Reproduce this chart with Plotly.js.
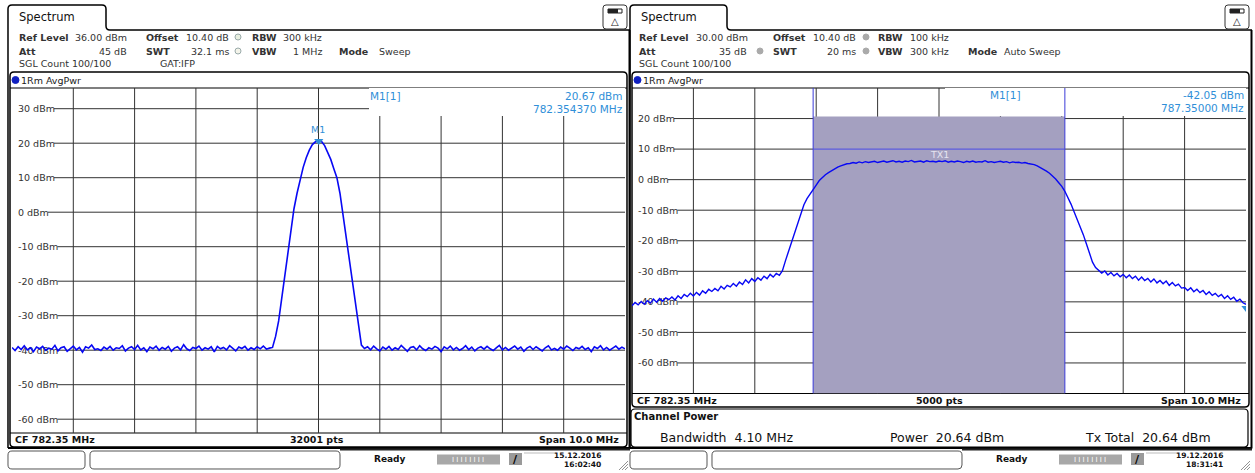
<!DOCTYPE html>
<html><head><meta charset="utf-8">
<script src="https://cdn.plot.ly/plotly-3.0.1.min.js"></script>
<style>html,body{margin:0;padding:0;background:#fff;overflow:hidden}#chart{width:1255px;height:473px}</style>
</head><body><div id="chart"></div>
<script>
// ---------------- data ----------------
const centerFreqMHz = 782.35;
const spanMHz = 10.0;
const refLevel1 = 36, bottomLevel1 = -64;
const refLevel2 = 30, bottomLevel2 = -70;
const yTickValues1 = [30, 20, 10, 0, -10, -20, -30, -40, -50, -60];
const yTickValues2 = [20, 10, 0, -10, -20, -30, -40, -50, -60];
const yTickLabels1 = ['30 dBm','20 dBm','10 dBm','0 dBm','-10 dBm','-20 dBm','-30 dBm','-40 dBm','-50 dBm','-60 dBm'];
const yTickLabels2 = ['20 dBm','10 dBm','0 dBm','-10 dBm','-20 dBm','-30 dBm','-40 dBm','-50 dBm','-60 dBm'];

// left analyser trace (dBm), sampled evenly across the span
const trace1Level = [
-39.2,-40.1,-39.0,-39.8,-38.7,-39.9,-39.3,-40.4,-39.1,-39.6,
-38.9,-40.0,-39.4,-39.7,-38.6,-40.2,-39.3,-39.0,-40.3,-39.5,
-38.8,-39.9,-39.2,-40.6,-39.0,-39.4,-38.5,-39.8,-39.6,-40.1,
-39.1,-39.7,-38.9,-40.0,-39.3,-39.5,-38.7,-40.2,-39.4,-39.0,
-39.8,-38.6,-39.9,-39.3,-40.4,-39.1,-39.6,-38.8,-40.0,-39.2,
-39.7,-38.9,-40.3,-39.4,-39.0,-39.9,-38.4,-39.6,-40.1,-39.2,
-39.5,-38.8,-40.0,-39.3,-39.7,-39.0,-40.5,-38.9,-39.6,-39.2,
-39.9,-38.7,-39.4,-40.2,-39.1,-39.5,-38.9,-40.0,-39.3,-39.8,
-39.0,-39.6,-38.8,-39.7,-39.4,-39.2,
-36.0,-31.5,-25.0,-18.5,-12.5,-5.0,1.0,5.5,9.5,13.0,15.8,18.0,19.6,20.4,20.67,
20.5,19.3,17.5,15.3,12.6,10.0,5.5,-1.0,-7.5,-13.5,-20.0,-27.0,-33.5,-38.5,
-39.5,-39.0,-39.9,-38.8,-39.6,-40.2,-39.1,-39.7,-38.9,-40.0,
-39.3,-39.8,-38.6,-39.5,-40.3,-39.2,-39.0,-39.9,-38.7,-39.6,
-40.1,-39.3,-39.7,-38.9,-39.4,-40.4,-39.0,-39.6,-38.8,-39.9,
-39.2,-40.0,-39.5,-38.7,-39.8,-39.1,-40.2,-39.4,-39.0,-39.7,
-38.9,-39.6,-40.1,-39.3,-38.6,-39.9,-39.2,-40.0,-39.5,-38.8,
-39.7,-39.1,-40.3,-39.4,-38.9,-39.8,-39.0,-39.6,-40.2,-39.3,
-38.7,-39.9,-39.5,-40.0,-39.1,-39.7,-38.8,-39.4,-40.1,-39.2,
-39.6,-38.9,-39.8,-39.3,-40.4,-39.0,-39.5,-38.7,-39.9,-39.2,
-40.0,-39.4,-38.8,-39.7,-39.1,-39.6
];

// right analyser trace (dBm), sampled evenly across the span
const trace2Level = [
-41.3,-40.2,-41.0,-39.9,-40.8,-39.6,-40.4,-39.1,-40.1,-38.9,
-39.8,-38.7,-39.3,-38.4,-39.4,-38.0,-38.9,-37.6,-38.3,-37.2,
-38.1,-36.9,-37.8,-36.4,-37.2,-35.9,-36.6,-35.6,-36.4,-34.9,
-35.8,-34.6,-35.1,-34.0,-34.9,-33.5,-34.3,-32.8,-33.8,-32.4,
-33.3,-32.1,-32.9,-31.6,-32.4,-31.0,-31.9,-30.7,-31.3,
-29.8,-26.5,-23.5,-20.5,-17.0,-13.8,-10.8,-8.2,-6.2,-4.6,-3.3,-1.8,-0.3,0.7,1.6,2.3,3.0,3.6,4.1,4.5,4.9,5.2,
5.3,5.6,5.4,5.8,5.5,5.9,5.6,5.7,6.0,5.6,
5.8,6.1,5.7,5.9,6.2,5.8,6.0,5.7,6.1,5.9,
6.3,5.8,6.0,6.1,5.7,6.2,5.9,6.0,5.8,6.1,
5.9,6.2,5.7,6.0,5.8,6.1,5.9,5.6,6.0,5.8,
6.1,5.7,5.9,5.8,6.2,5.7,5.9,5.6,5.8,6.0,
5.7,5.9,5.5,5.8,5.6,5.7,5.4,5.6,5.3,
5.2,4.9,4.5,4.0,3.4,2.8,2.1,1.2,0.2,-1.0,-2.2,-3.8,-5.8,-8.0,-10.5,-12.8,-15.2,-18.0,-21.0,-24.2,-27.0,-28.8,-29.8,-30.6,
-29.9,-31.2,-30.4,-31.5,-30.7,-31.8,-31.0,
-32.1,-31.2,-32.4,-31.6,-32.9,-31.9,-33.0,-32.3,-33.5,-32.5,
-33.8,-33.0,-34.1,-33.2,-34.6,-33.7,-34.8,-34.2,-35.5,-35.3,
-36.3,-35.4,-36.7,-35.9,-37.0,-36.3,-37.6,-36.7,-37.9,-37.2,
-38.3,-37.6,-38.9,-38.0,-39.2,-38.5,-39.8,-39.1,-40.3,-40.8
];

const marker1 = {freq: 782.354370, level: 20.67};
const marker2 = {freq: 787.35, level: -42.05};
const channelBwMHz = 4.10;
const txLineLevel = 10;

// ---------------- layout helpers ----------------
const W = 1255, H = 473;
const FONT = "'DejaVu Sans', Verdana, sans-serif";
const X = x => x / W, Y = y => 1 - y / H;
const shapes = [], ann = [];
const startF = centerFreqMHz - spanMHz / 2, stopF = centerFreqMHz + spanMHz / 2;
const freqs = arr => arr.map((_, i) => startF + i * spanMHz / (arr.length - 1));

function line(x0, y0, x1, y1, color = '#000', w = 1, layer = 'below') {
  shapes.push({type: 'line', xref: 'paper', yref: 'paper', x0: X(x0), y0: Y(y0), x1: X(x1), y1: Y(y1), line: {color, width: w}, layer});
}
function rect(x0, y0, x1, y1, o = {}) {
  shapes.push({type: 'rect', xref: 'paper', yref: 'paper', x0: X(x0), y0: Y(y0), x1: X(x1), y1: Y(y1),
    line: {color: o.lc || '#000', width: o.lw == null ? 1 : o.lw}, fillcolor: o.fill || 'rgba(0,0,0,0)', layer: o.layer || 'below'});
}
function P(x, y) { return X(x).toFixed(5) + ',' + Y(y).toFixed(5); }
function path(d, o = {}) {
  shapes.push({type: 'path', xref: 'paper', yref: 'paper', path: d, line: {color: o.lc || '#000', width: o.lw == null ? 1 : o.lw},
    fillcolor: o.fill || 'rgba(0,0,0,0)', layer: o.layer || 'below'});
}
function rrect(x0, y0, x1, y1, r, o = {}) {
  const d = 'M' + P(x0 + r, y0) + ' L' + P(x1 - r, y0) + ' Q' + P(x1, y0) + ' ' + P(x1, y0 + r) +
    ' L' + P(x1, y1 - r) + ' Q' + P(x1, y1) + ' ' + P(x1 - r, y1) + ' L' + P(x0 + r, y1) + ' Q' + P(x0, y1) + ' ' + P(x0, y1 - r) +
    ' L' + P(x0, y0 + r) + ' Q' + P(x0, y0) + ' ' + P(x0 + r, y0) + ' Z';
  path(d, o);
}
function circ(cx, cy, r, o = {}) {
  shapes.push({type: 'circle', xref: 'paper', yref: 'paper', x0: X(cx - r), y0: Y(cy + r), x1: X(cx + r), y1: Y(cy - r),
    line: {color: o.lc || '#999', width: o.lw == null ? 1 : o.lw}, fillcolor: o.fill || 'rgba(0,0,0,0)', layer: 'below'});
}
function txt(t, x, y, o = {}) {
  ann.push({text: t, x: X(x), y: Y(y), xref: 'paper', yref: 'paper', xanchor: o.a || 'left', yanchor: 'middle',
    showarrow: false, borderpad: 0, font: {family: o.f || FONT, size: o.s || 9.5, color: o.c || '#222'}});
}
const ctx = document.createElement('canvas').getContext('2d');
function textW(t, size) { ctx.font = size + "px 'DejaVu Sans'"; return ctx.measureText(t).width; }

// plot rectangles (pixels)
const L1 = {x0: 12, x1: 625, y0: 88, y1: 433};
const L2 = {x0: 632, x1: 1246, y0: 88, y1: 393.5};
const TICK_SIZE = 9.5, STANDOFF = 3;

function hGrid(plot, vals, labels, yref) {
  vals.forEach((v, i) => {
    const xs = plot.x0 + STANDOFF + textW(labels[i], TICK_SIZE) + 2;
    shapes.push({type: 'line', xref: 'paper', yref, x0: X(xs), x1: X(plot.x1), y0: v, y1: v, line: {color: '#333', width: 1}, layer: 'below'});
  });
}
function vGrid(xref, yref, yb, yt) {
  for (let k = 1; k < 10; k++) {
    const f = startF + k * spanMHz / 10;
    shapes.push({type: 'line', xref, yref, x0: f, x1: f, y0: yb, y1: yt, line: {color: '#333', width: 1}, layer: 'below'});
  }
}

// ---- grids ----
hGrid(L1, yTickValues1, yTickLabels1, 'y');
hGrid(L2, yTickValues2, yTickLabels2, 'y2');
vGrid('x', 'y', bottomLevel1, refLevel1);
vGrid('x2', 'y2', bottomLevel2, refLevel2);

// marker-info masks (white), in subplot coordinates
function pxToF(plot, px) { return startF + (px - plot.x0) / (plot.x1 - plot.x0) * spanMHz; }
function pxToL(plot, py, top, bot) { return top - (py - plot.y0) / (plot.y1 - plot.y0) * (top - bot); }
shapes.push({type: 'rect', xref: 'x', yref: 'y', x0: pxToF(L1, 369), x1: stopF, y0: pxToL(L1, 116, refLevel1, bottomLevel1), y1: refLevel1,
  line: {width: 0}, fillcolor: '#fff', layer: 'below'});
shapes.push({type: 'rect', xref: 'x2', yref: 'y2', x0: pxToF(L2, 945), x1: stopF, y0: pxToL(L2, 116, refLevel2, bottomLevel2), y1: refLevel2,
  line: {width: 0}, fillcolor: '#fff', layer: 'below'});

// channel shading in right plot
const chLo = centerFreqMHz - channelBwMHz / 2, chHi = centerFreqMHz + channelBwMHz / 2;
shapes.push({type: 'rect', xref: 'x2', yref: 'y2', x0: chLo, x1: chHi, y0: bottomLevel2, y1: pxToL(L2, 116.5, refLevel2, bottomLevel2),
  line: {width: 0}, fillcolor: 'rgb(164,160,192)', layer: 'below'});
[chLo, chHi].forEach(f => shapes.push({type: 'line', xref: 'x2', yref: 'y2', x0: f, x1: f, y0: bottomLevel2, y1: refLevel2,
  line: {color: '#3a3ad8', width: 1}, layer: 'below'}));
shapes.push({type: 'line', xref: 'x2', yref: 'y2', x0: chLo, x1: chHi, y0: txLineLevel, y1: txLineLevel, line: {color: '#4a4ae6', width: 1}, layer: 'below'});

// ---------------- panel frames & texts ----------------
function panel(ox, tabW, cfg) {
  path('M' + P(ox + 8, 448) + ' L' + P(ox + 8, 9) + ' Q' + P(ox + 8, 5) + ' ' + P(ox + 12, 5) + ' L' + P(ox + tabW - 4, 5) +
    ' Q' + P(ox + tabW, 5) + ' ' + P(ox + tabW, 9) + ' L' + P(ox + tabW, 26) + ' Q' + P(ox + tabW, 30) + ' ' + P(ox + tabW + 4, 30) +
    ' L' + P(ox + 630, 30), {lw: 1.5});
  txt('Spectrum', ox + 18, 17, {s: 11.5, c: '#111'});
  rrect(ox + 603, 5, ox + 627, 29, 3, {lw: 1, lc: '#333', fill: '#fff'});
  rect(ox + 608, 9, ox + 622, 13, {lw: 1, lc: '#222', fill: '#fff'});
  rect(ox + 608, 9, ox + 618, 13, {lw: 0, fill: '#222'});
  txt('△', ox + 615, 21, {a: 'center', s: 10, c: '#222'});
  line(ox + 629.5, 30, ox + 629.5, 448.5, '#000', 2);
  line(ox + 8, 448, ox + 630, 448, '#000', 2);
  const c = '#333';
  cfg.info.forEach(it => txt(it[0], ox + it[1], it[2], {a: it[3] || 'left', c: it[4] || c}));
  cfg.dots.forEach(d => circ(ox + d[0], d[1], 3, d[2]));
  rrect(ox + 10, 72, ox + 627, cfg.winBottom, 4, {lw: 1.5});
  line(ox + 10, 88, ox + 627, 88, '#000', 1.2);
  circ(ox + 15.5, 80, 3.5, {lc: '#1020c0', fill: '#1020c0'});
  txt('1Rm AvgPwr', ox + 20, 80, {c: '#222'});
  line(ox + 10, cfg.plotBottom, ox + 627, cfg.plotBottom, '#000', 1.2);
  const by = cfg.plotBottom + 6.5;
  txt('<b>CF 782.35 MHz</b>', ox + 14, by, {c: '#111'});
  txt('<b>' + cfg.pts + '</b>', ox + 317, by, {a: 'center', c: '#111'});
  txt('<b>Span 10.0 MHz</b>', ox + 620, by, {a: 'right', c: '#111'});
  rrect(ox + 8, 451, ox + 85, 469, 4, {lw: 1, lc: '#555'});
  rrect(ox + 90, 451, ox + 340, 469, 4, {lw: 1, lc: '#555'});
  line(ox + 340, 449.5, ox + 630, 449.5, '#222', 2);
  txt('<b>Ready</b>', ox + 373, 459, {s: 9, c: '#111'});
  rect(ox + 437, 454.5, ox + 500, 464.5, {lw: 0, fill: '#a8a8a8'});
  txt('I I I I I I I I', ox + 468, 459.5, {a: 'center', s: 7, c: '#fff'});
  rect(ox + 509, 453, ox + 522, 465, {lw: 0, fill: '#9a9a9a'});
  txt('<b>/</b>', ox + 515.5, 459, {a: 'center', s: 11, c: '#000'});
  line(ox + 524, 453, ox + 556, 453, '#bbb', 1);
  txt('<b>' + cfg.date + '</b>', ox + 602, 455, {a: 'right', s: 7.5, c: '#111'});
  txt('<b>' + cfg.time + '</b>', ox + 602, 464.5, {a: 'right', s: 7.5, c: '#111'});
  for (let k = 0; k < 4; k++) line(ox + 619 + k * 3, 470, ox + 628, 461 + k * 3, '#777', 0.8);
}

panel(0, 106, {
  info: [
    ['<b>Ref Level</b>', 18, 37], ['36.00 dBm', 128, 37, 'right'], ['<b>Offset</b>', 145, 37], ['10.40 dB', 230, 37, 'right'],
    ['<b>RBW</b>', 251, 37], ['300 kHz', 323, 37, 'right'],
    ['<b>Att</b>', 18, 51], ['45 dB', 128, 51, 'right'], ['<b>SWT</b>', 145, 51], ['32.1 ms', 230, 51, 'right'],
    ['<b>VBW</b>', 251, 51], ['1 MHz', 323, 51, 'right'], ['<b>Mode</b>', 338, 51], ['Sweep', 378, 51],
    ['SGL Count 100/100', 18, 64], ['GAT:IFP', 159, 64]
  ],
  dots: [[238, 37, {lc: '#9aa', fill: '#e8efe0'}], [238, 51, {lc: '#9aa', fill: '#f4f4ea'}]],
  winBottom: 447, plotBottom: 433, pts: '32001 pts', date: '15.12.2016', time: '16:02:40'
});
panel(622, 727 - 622, {
  info: [
    ['<b>Ref Level</b>', 16, 37], ['30.00 dBm', 127, 37, 'right'], ['<b>Offset</b>', 150, 37], ['10.40 dB', 235, 37, 'right'],
    ['<b>RBW</b>', 255, 37], ['100 kHz', 328, 37, 'right'],
    ['<b>Att</b>', 16, 51], ['35 dB', 126, 51, 'right'], ['<b>SWT</b>', 150, 51], ['20 ms', 235, 51, 'right'],
    ['<b>VBW</b>', 255, 51], ['300 kHz', 328, 51, 'right'], ['<b>Mode</b>', 345, 51], ['Auto Sweep', 381, 51],
    ['SGL Count 100/100', 16, 64]
  ],
  dots: [[244, 37, {lc: '#aaa', fill: '#aaa'}], [138, 51, {lc: '#aaa', fill: '#aaa'}], [244, 51, {lc: '#aaa', fill: '#aaa'}]],
  winBottom: 407, plotBottom: 393.5, pts: '5000 pts', date: '19.12.2016', time: '18:31:41'
});
rrect(631, 409, 1248, 447, 4, {lw: 1.2});
txt('<b>Channel Power</b>', 633, 416.5, {s: 10, c: '#111'});
txt('Bandwidth\u00A0\u00A04.10 MHz', 659, 437, {s: 12.5, c: '#111'});
txt('Power\u00A0\u00A020.64 dBm', 889, 437, {s: 12.5, c: '#111'});
txt('Tx Total\u00A0\u00A020.64 dBm', 1084, 437, {s: 12.5, c: '#111'});

const MC = '#2f8fd8';
txt('M1[1]', 369, 96, {s: 10.5, c: MC});
txt(marker1.level.toFixed(2) + ' dBm', 624, 96, {a: 'right', s: 10.5, c: MC});
txt(marker1.freq.toFixed(6) + ' MHz', 624, 109, {a: 'right', s: 10.5, c: MC});
txt('M1', 318, 129, {a: 'center', s: 9.5, c: MC});
txt('M1[1]', 989, 95, {s: 10.5, c: MC});
txt(marker2.level.toFixed(2) + ' dBm', 1245, 95, {a: 'right', s: 10.5, c: MC});
txt(marker2.freq.toFixed(5) + ' MHz', 1245, 108, {a: 'right', s: 10.5, c: MC});
txt('TX1', 939, 155, {a: 'center', s: 9.5, c: '#e4e4f0'});

// ---------------- traces ----------------
const traces = [
  {x: freqs(trace1Level), y: trace1Level, type: 'scatter', mode: 'lines', xaxis: 'x', yaxis: 'y',
   line: {color: '#0808f4', width: 1.6}, hoverinfo: 'skip'},
  {x: freqs(trace2Level), y: trace2Level, type: 'scatter', mode: 'lines', xaxis: 'x2', yaxis: 'y2',
   line: {color: '#0808f4', width: 1.4}, hoverinfo: 'skip'},
  {x: [marker1.freq], y: [marker1.level], type: 'scatter', mode: 'markers', xaxis: 'x', yaxis: 'y', cliponaxis: false,
   marker: {symbol: 'triangle-down', size: 8, color: MC}, hoverinfo: 'skip'},
  {x: [marker2.freq], y: [marker2.level], type: 'scatter', mode: 'markers', xaxis: 'x2', yaxis: 'y2', cliponaxis: true,
   marker: {symbol: 'triangle-down', size: 8, color: MC}, hoverinfo: 'skip'}
];

const xCommon = {range: [startF, stopF], showgrid: false, zeroline: false, showline: false, showticklabels: false, ticks: '', fixedrange: true};
const yCommon = {showgrid: false, zeroline: false, showline: false, ticks: '', ticklabelposition: 'inside', ticklabelstandoff: STANDOFF,
  tickfont: {family: FONT, size: TICK_SIZE, color: '#333'}, layer: 'below traces', fixedrange: true};

const layout = {
  width: W, height: H, margin: {l: 0, r: 0, t: 0, b: 0}, showlegend: false,
  paper_bgcolor: '#fff', plot_bgcolor: 'rgba(0,0,0,0)',
  xaxis: Object.assign({}, xCommon, {domain: [X(L1.x0), X(L1.x1)], anchor: 'y'}),
  yaxis: Object.assign({}, yCommon, {domain: [Y(L1.y1), Y(L1.y0)], range: [bottomLevel1, refLevel1], tickvals: yTickValues1, ticktext: yTickLabels1, anchor: 'x'}),
  xaxis2: Object.assign({}, xCommon, {domain: [X(L2.x0), X(L2.x1)], anchor: 'y2'}),
  yaxis2: Object.assign({}, yCommon, {domain: [Y(L2.y1), Y(L2.y0)], range: [bottomLevel2, refLevel2], tickvals: yTickValues2, ticktext: yTickLabels2, anchor: 'x2'}),
  shapes, annotations: ann
};
Plotly.newPlot('chart', traces, layout, {staticPlot: true, displayModeBar: false});
</script></body></html>
